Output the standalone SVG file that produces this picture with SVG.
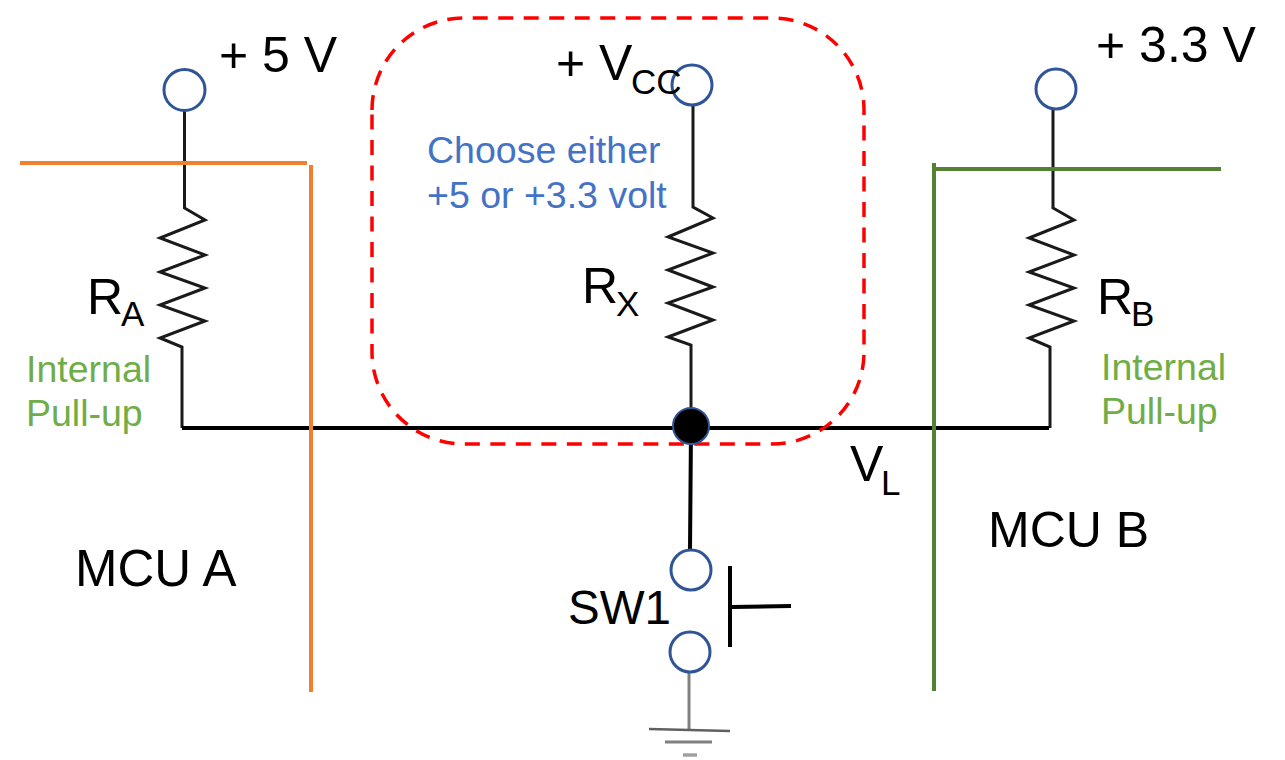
<svg xmlns="http://www.w3.org/2000/svg" width="1285" height="760" viewBox="0 0 1285 760">
<style>
.w{fill:none;stroke:#1a1a1a;stroke-width:3;stroke-linejoin:miter}
.t{fill:none;stroke:#000;stroke-width:4}
.c{fill:#fff;stroke:#2f5597;stroke-width:3}
text{font-family:"Liberation Sans",Arial,sans-serif;fill:#000}
.l{font-size:50px}
.s{font-size:35px}
.g{font-size:37.500px;fill:#70ad47}
.b{font-size:37.500px;fill:#4472c4}
</style>
<rect width="1285" height="760" fill="#fff"/>
<g id="connectors">
<path class="w" d="M184.500 106V208L205 220L160 238L205 255L160 272L205 288L160 305L205 321L160 338L182 347V428"/>
<path class="w" d="M693 106V207L713 218L668 237L713 253L668 270L713 287L668 303L713 320L668 337L691 345V428"/>
<path class="w" d="M1053 106V208L1074 220L1029 238L1074 255L1029 272L1074 288L1029 305L1074 321L1029 338L1050 347V428"/>
<path class="t" d="M182 428H1049M691 428L690 551"/>
<path fill="none" stroke="#f08030" stroke-width="4" d="M20 163H307M311 165V692"/>
<path fill="none" stroke="#548235" stroke-width="4" d="M934 163V691M934 169H1221"/>
<path fill="none" stroke="#f00" stroke-width="3.500" stroke-dasharray="15 10.500" d="M372 110A92 92 0 0 1 464 18H772A92 92 0 0 1 864 110V352A92 92 0 0 1 772 444H464A92 92 0 0 1 372 352Z"/>
<path class="t" d="M730 566V647M732 607L791 606" stroke-width="3.500"/>
<path fill="none" stroke="#808080" stroke-width="3" d="M689 673V730"/>
<path fill="none" stroke="#606060" stroke-width="2.500" d="M649 729L730 731"/>
<path fill="none" stroke="#808080" stroke-width="3" d="M665 742H712"/>
<path fill="none" stroke="#a0a0a0" stroke-width="3.500" d="M683 755H697"/>
</g>
<g id="node-5v"><circle class="c" cx="184.500" cy="90" r="20.500"/><text class="l" x="219" y="72">+ 5 V</text></g>
<g id="node-vcc"><circle class="c" cx="692" cy="85" r="20"/><text class="l" x="556" y="80">+ V</text><text class="s" x="631" y="94">CC</text></g>
<g id="node-33v"><circle class="c" cx="1056" cy="89" r="20"/><text class="l" x="1096" y="62">+ 3.3 V</text></g>
<g id="node-ra"><text class="l" x="87" y="314">R</text><text class="s" x="121" y="326">A</text></g>
<g id="node-rx"><text class="l" x="582" y="303">R</text><text class="s" x="616" y="316">X</text></g>
<g id="node-rb"><text class="l" x="1097" y="314">R</text><text class="s" x="1131" y="326">B</text></g>
<g id="note-a"><text class="g" x="26" y="382">Internal</text><text class="g" x="26" y="426">Pull-up</text></g>
<g id="note-b"><text class="g" x="1101" y="380">Internal</text><text class="g" x="1101" y="424">Pull-up</text></g>
<g id="note-choose"><text class="b" x="427" y="163">Choose either</text><text class="b" x="427" y="208">+5 or +3.3 volt</text></g>
<g id="node-junction"><circle cx="691" cy="426" r="18" fill="#000" stroke="#2f5597" stroke-width="2"/></g>
<g id="node-vl"><text class="l" x="850" y="481">V</text><text class="s" x="881" y="495">L</text></g>
<g id="node-mcua"><text class="l" x="75" y="586" style="font-size:51px">MCU A</text></g>
<g id="node-mcub"><text class="l" x="988" y="547">MCU B</text></g>
<g id="node-sw1"><circle class="c" cx="691" cy="570" r="20"/><circle class="c" cx="690" cy="652" r="20"/><text class="l" x="568" y="624" style="font-size:47.500px">SW1</text></g>
</svg>
